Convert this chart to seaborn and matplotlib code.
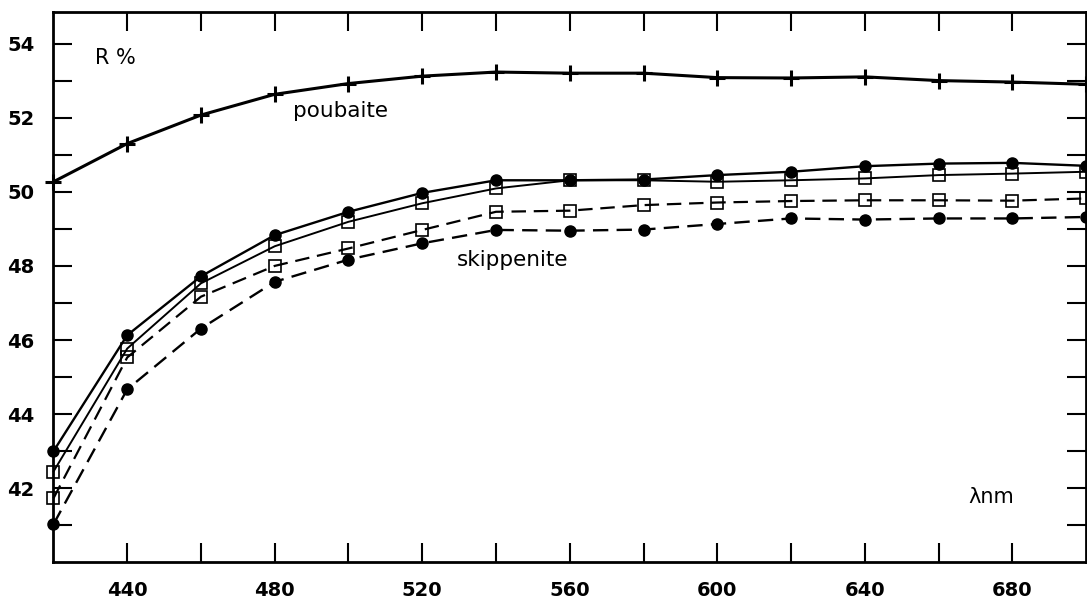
import matplotlib
matplotlib.use('Agg')
import matplotlib.pyplot as plt
import seaborn as sns

# Wavelengths (nm) and reflectance values
wavelength = [420, 440, 460, 480, 500, 520, 540, 560, 580, 600, 620, 640, 660, 680, 700]
poubaite = [50.27, 51.30, 52.07, 52.63, 52.92, 53.12, 53.23, 53.20, 53.20, 53.08, 53.07, 53.10, 53.00, 52.96, 52.90]
skip_solid_circle = [43.00, 46.13, 47.72, 48.83, 49.46, 49.97, 50.31, 50.31, 50.33, 50.45, 50.54, 50.69, 50.76, 50.78, 50.70]
skip_solid_square = [42.45, 45.77, 47.53, 48.53, 49.19, 49.69, 50.09, 50.31, 50.31, 50.27, 50.31, 50.36, 50.45, 50.49, 50.54]
skip_dash_square = [41.73, 45.53, 47.17, 48.00, 48.47, 48.97, 49.46, 49.49, 49.64, 49.71, 49.75, 49.77, 49.77, 49.76, 49.82]
skip_dash_circle = [41.03, 44.67, 46.31, 47.57, 48.17, 48.61, 48.97, 48.95, 48.98, 49.13, 49.28, 49.25, 49.28, 49.28, 49.32]

x_major = [440, 480, 520, 560, 600, 640, 680]
x_minor = [460, 500, 540, 580, 620, 660]
y_major = [42, 44, 46, 48, 50, 52, 54]
y_minor = [41, 43, 45, 47, 49, 51, 53]

sns.set_theme(style='white', rc={'text.color': 'black', 'xtick.color': 'black',
                                 'ytick.color': 'black', 'axes.labelcolor': 'black'})
plt.rcParams['font.family'] = ['DejaVu Sans']

fig = plt.figure(figsize=(10.87, 6.04), dpi=100)
ax = fig.add_axes([0.0492, 0.0689, 0.9499, 0.9112])

dash = (0, (6.5, 3.5))

# poubaite curve
sns.lineplot(x=wavelength, y=poubaite, ax=ax, color='black', lw=2.2,
             marker='+', ms=12, mew=2.2, mec='black', clip_on=False)

# skippenite curves
sns.lineplot(x=wavelength, y=skip_solid_circle, ax=ax, color='black', lw=1.7,
             marker='o', ms=8, mfc='black', mec='black', mew=1, clip_on=False)
sns.lineplot(x=wavelength, y=skip_solid_square, ax=ax, color='black', lw=1.4,
             marker='s', ms=8.5, mfc='none', mec='black', mew=1.2, clip_on=False)
sns.lineplot(x=wavelength, y=skip_dash_square, ax=ax, color='black', lw=1.6,
             linestyle=dash, marker='s', ms=8.5, mfc='none', mec='black', mew=1.2,
             clip_on=False)
sns.lineplot(x=wavelength, y=skip_dash_circle, ax=ax, color='black', lw=1.7,
             linestyle=dash, marker='o', ms=8, mfc='black', mec='black', mew=1,
             clip_on=False)

ax.set_xlim(420, 700)
ax.set_ylim(40, 54.85)

ax.set_xticks(x_major)
ax.set_xticks(x_minor, minor=True)
ax.set_yticks(y_major)
ax.set_yticks(y_minor, minor=True)

ax.tick_params(which='both', direction='in', length=13.5, width=1.5,
               color='black', labelcolor='black',
               top=True, right=True, bottom=True, left=True)
ax.tick_params(axis='x', which='major', pad=13.5, labelsize=14)
ax.tick_params(axis='y', which='major', pad=13.5, labelsize=14)
for lab in ax.get_xticklabels() + ax.get_yticklabels():
    lab.set_fontweight('bold')

for side in ['left', 'right', 'top', 'bottom']:
    ax.spines[side].set_visible(True)
    ax.spines[side].set_color('black')
    ax.spines[side].set_linewidth(2)

ax.set_xlabel('')
ax.set_ylabel('')

# Annotations
ax.text(431.2, 53.60, 'R %', fontsize=15, va='center', ha='left', color='black')
ax.text(485.0, 52.02, 'poubaite', fontsize=15.5, va='baseline', ha='left', color='black')
ax.text(529.5, 47.99, 'skippenite', fontsize=15.5, va='baseline', ha='left', color='black')
ax.text(668.1, 41.59, 'λnm', fontsize=15, va='baseline', ha='left', color='black')

fig.savefig('out.png', dpi=100)
